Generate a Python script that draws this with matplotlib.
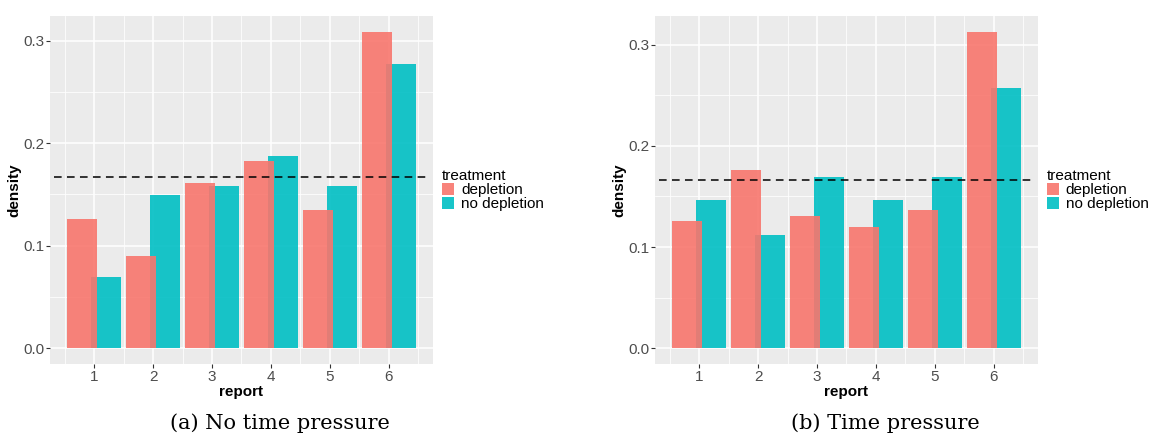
import numpy as np
import matplotlib
matplotlib.use("Agg")
import matplotlib.pyplot as plt
from matplotlib.patches import Patch

reports = [1, 2, 3, 4, 5, 6]
treatments = ["depletion", "no depletion"]

# densidades
no_pressure_depletion = [0.1255, 0.0895, 0.1606, 0.1829, 0.1343, 0.3085]
no_pressure_no_depletion = [0.0691, 0.1489, 0.1586, 0.1878, 0.1586, 0.2773]
pressure_depletion = [0.1253, 0.1766, 0.1303, 0.1194, 0.1362, 0.3128]
pressure_no_depletion = [0.1470, 0.1115, 0.1688, 0.1470, 0.1688, 0.2576]

uniform_density = 1 / 6
captions = ["(a) No time pressure", "(b) Time pressure"]

colores = {"depletion": "#F8766D", "no depletion": "#00BFC4"}
sans = "Liberation Sans"

fig = plt.figure(figsize=(11.51, 4.34), dpi=100)

paneles = [
    (0.0434, 0.2433, no_pressure_depletion, no_pressure_no_depletion),
    (0.5690, 0.7690, pressure_depletion, pressure_no_depletion),
]

for i, (left, cap_x, dep, nodep) in enumerate(paneles):
    ax = fig.add_axes([left, 0.1613, 0.3328, 0.8018])
    ax.set_facecolor("#EBEBEB")
    x = np.array(reports, dtype=float)

    ax.bar(x + 0.2, nodep, width=0.508, color=colores["no depletion"],
           alpha=0.9, zorder=2, linewidth=0)
    ax.bar(x - 0.2, dep, width=0.508, color=colores["depletion"],
           alpha=0.9, zorder=3, linewidth=0)
    ax.hlines(uniform_density, 0.32, 6.66, colors="black", linewidth=1.1,
              linestyles=(0, (5, 3.5)), zorder=4)

    top = max(max(dep), max(nodep))
    ax.set_ylim(-0.05 * top, top * 1.05)
    ax.set_xlim(0.25, 6.75)

    ax.set_xticks(reports)
    ax.set_xticks(np.arange(0.5, 7.0, 1.0), minor=True)
    ax.set_yticks([0.0, 0.1, 0.2, 0.3])
    ax.set_yticklabels(["0.0", "0.1", "0.2", "0.3"])
    ax.set_yticks([0.05, 0.15, 0.25], minor=True)

    ax.grid(which="major", color="white", linewidth=1.1, zorder=0)
    ax.grid(which="minor", color="white", linewidth=0.55, zorder=0)
    ax.set_axisbelow(True)
    for s in ax.spines.values():
        s.set_visible(False)

    ax.tick_params(which="major", length=2.75, width=0.8, color="#333333",
                   labelcolor="#4D4D4D", labelsize=11, pad=1.5)
    ax.tick_params(which="minor", length=0)
    for lab in ax.get_xticklabels() + ax.get_yticklabels():
        lab.set_family(sans)

    ax.set_xlabel("report", fontsize=11, fontweight="bold", family=sans,
                  labelpad=0.5)
    ax.set_ylabel("density", fontsize=11, fontweight="bold", family=sans,
                  labelpad=1)

    handles = [Patch(facecolor=colores[t], alpha=0.9, linewidth=0)
               for t in treatments]
    leg = ax.legend(handles, treatments, title="treatment",
                    loc="center left", bbox_to_anchor=(1.015, 0.5),
                    frameon=False, handlelength=0.8, handleheight=0.85,
                    handletextpad=0.45, labelspacing=0.0, borderaxespad=0,
                    borderpad=0.2,
                    prop={"family": sans, "size": 11},
                    title_fontproperties={"family": sans, "size": 11})
    leg._legend_box.align = "left"

    fig.text(cap_x, 0.012, captions[i], ha="center", va="baseline",
             fontsize=15, family="DejaVu Serif")

fig.savefig("out.png", dpi=100)
